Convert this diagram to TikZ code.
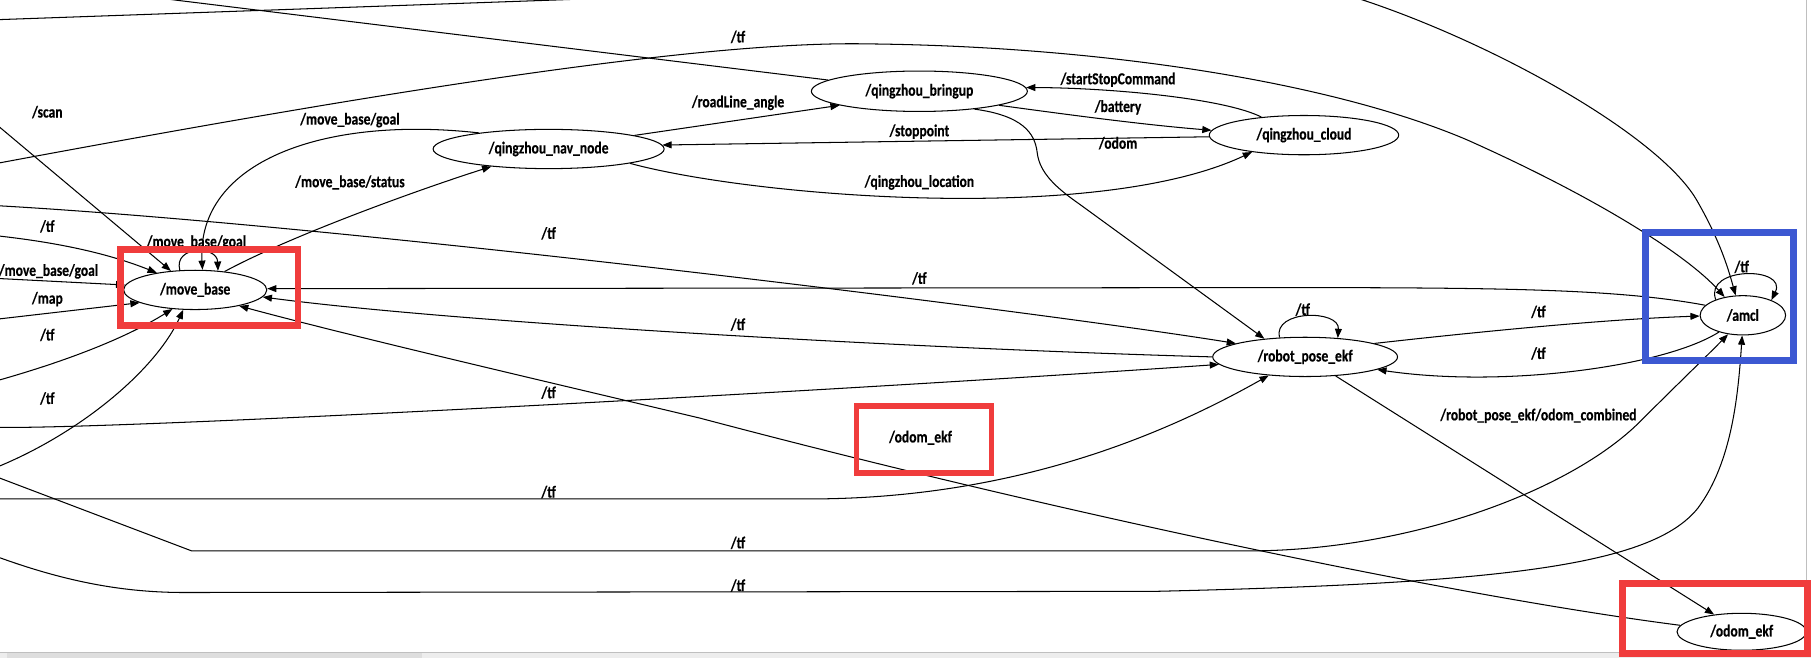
\documentclass[tikz,border=0pt]{standalone}
\usepackage{fontspec}
\newfontfamily\lblfont{Carlito}[FakeStretch=0.81,FakeBold=0.35]
\usetikzlibrary{arrows.meta,shapes.geometric}
\definecolor{annred}{RGB}{240,60,60}
\definecolor{annblue}{RGB}{60,88,210}
\begin{document}
\begin{tikzpicture}[x=1pt,y=-1pt,
  font={\lblfont\fontsize{14.5pt}{16pt}\selectfont\bfseries},
  nd/.style={ellipse, draw, line width=0.9pt, inner sep=0pt, fill=white},
  lb/.style={inner sep=0pt},
  ed/.style={-{Triangle[length=8pt,width=6pt]}, line width=0.9pt},
  pl/.style={line width=0.9pt},
  annbox/.style={line width=6pt}]
\useasboundingbox (0,0) rectangle (1568,570);
\fill[white] (0,0) rectangle (1568,570);
\clip (0,0) rectangle (1568,570);

% nodes
\node[nd, minimum width=124pt, minimum height=34pt] (mb) at (169,251) {/move\_base};
\node[nd, minimum width=200pt, minimum height=34pt] (nav) at (475,129) {/qingzhou\_nav\_node};
\node[nd, minimum width=187pt, minimum height=35pt] (bu) at (796,79) {/qingzhou\_bringup};
\node[nd, minimum width=164pt, minimum height=34pt] (cl) at (1129,117) {/qingzhou\_cloud};
\node[nd, minimum width=160pt, minimum height=34pt] (rpe) at (1130,309) {/robot\_pose\_ekf};
\node[nd, minimum width=74pt, minimum height=34pt] (amcl) at (1509,273) {/amcl};
\node[nd, minimum width=112pt, minimum height=32pt] (oe) at (1508,547) {/odom\_ekf};
\node[lb] (oe2) at (797,379) {/odom\_ekf};

% free ends
\coordinate (s1) at (-4,107);
\coordinate (s2) at (-4,204);
\coordinate (s3) at (-4,241);
\coordinate (s4) at (-4,276.5);
\coordinate (s5) at (-4,330);
\coordinate (s6) at (-4,405);
\coordinate (s7) at (-4,178);
\coordinate (s8) at (-4,141.7);
\coordinate (s9) at (-4,17.1);
\coordinate (s10) at (-4,370);
\coordinate (s11) at (-4,432);
\coordinate (s12) at (-4,412.5);
\coordinate (s13) at (-4,481.5);
\coordinate (b1) at (135,-2);

% edges into move_base
\draw[ed] (s1) -- (mb.142);
\draw[ed] (s2) .. controls (60,211) and (100,222) .. (mb.156);
\draw[ed] (s3) -- (mb.176);
\draw[ed] (s4) -- (mb.193);
\draw[ed] (s5) .. controls (60,312) and (110,292) .. (mb.220);
\draw[ed] (s6) .. controls (70,375) and (135,320) .. (mb.239);
\draw[ed] (mb.128) .. controls (150,212.5) and (188,212.5) .. (mb.40);
\draw[ed] (nav.167) .. controls (280,100) and (170,140) .. (mb.70);
\draw[ed] (mb.32) .. controls (250,205) and (360,165) .. (nav.197);

% long lines
\draw[ed] (s7) .. controls (300,195) and (900,270) .. (rpe.169);
\draw[ed] (s8) .. controls (300,85) and (600,35) .. (751,38) .. controls (950,40) and (1150,70) .. (1270,121) .. controls (1380,170) and (1460,220) .. (amcl.135);
\draw[ed] (s9) -- (600,-4.2) .. controls (900,-15) and (1100,-28) .. (1180,0) .. controls (1300,40) and (1440,120) .. (1470,175) .. controls (1490,210) and (1497,235) .. (amcl.110);
\draw[pl] (bu.173) -- (b1);

% nav / bringup / cloud
\draw[ed] (nav.9) -- (bu.190);
\draw[ed] (cl.157) .. controls (1060,85) and (960,76) .. (bu.2);
\draw[ed] (bu.350) .. controls (930,100) and (990,108) .. (cl.177);
\draw[ed] (cl.181) -- (nav.2);
\draw[ed] (nav.350) .. controls (650,170) and (950,195) .. (cl.198);
\draw[ed] (bu.342) .. controls (885,100) and (896,115) .. (898,132) .. controls (900,150) and (915,163) .. (935,177) -- (rpe.156);

% tf network
\draw[ed] (amcl.165) .. controls (1400,250) and (1300,249) .. (1100,249) -- (mb.1);
\draw[ed] (rpe.180) .. controls (800,302) and (400,280) .. (mb.354);
\draw[ed] (s10) .. controls (100,372) and (700,340) .. (rpe.185);
\draw[ed] (s11) -- (700,432) .. controls (880,432) and (1010,375) .. (rpe.207);
\draw[ed] (s12) -- (166,477) -- (1080,477) .. controls (1220,477) and (1360,425) .. (1420,365) .. controls (1452,333) and (1476,310) .. (amcl.232);
\draw[ed] (s13) .. controls (60,505) and (110,513) .. (160,513) -- (1000,512) .. controls (1300,505) and (1430,490) .. (1470,440) .. controls (1500,400) and (1505,340) .. (amcl.268);
\draw[ed] (oe.174) .. controls (1250,515) and (900,440) .. (606,362) .. controls (450,325) and (300,290) .. (mb.340);
\draw[ed] (rpe.328) -- (oe.148);
\draw[ed] (rpe.11) .. controls (1300,285) and (1400,276) .. (amcl.181);
\draw[ed] (amcl.215) .. controls (1440,318) and (1300,336) .. (rpe.350);
\draw[ed] (rpe.143) .. controls (1102,268) and (1160,268) .. (rpe.30);
\draw[ed] (amcl.150) .. controls (1475,230.5) and (1548,230.5) .. (amcl.28);

% labels
\node[lb] (l1) at (639,32) {/tf};
\node[lb] (l2) at (41,97) {/scan};
\node[lb] (l3) at (303,104) {/move\_base/goal};
\node[lb] (l4) at (639,89) {/roadLine\_angle};
\node[lb] (l5) at (968,69) {/startStopCommand};
\node[lb] (l6) at (968,93) {/battery};
\node[lb] (l7) at (796,114) {/stoppoint};
\node[lb] (l8) at (968,124) {/odom};
\node[lb] (l9) at (796,158) {/qingzhou\_location};
\node[lb] (l10) at (303,158) {/move\_base/status};
\node[lb] (l11) at (41,196) {/tf};
\node[lb] (l12) at (475,202) {/tf};
\node[lb] (l13) at (170,210) {/move\_base/goal};
\node[lb] (l14) at (42,235) {/move\_base/goal};
\node[lb] (l15) at (41,259) {/map};
\node[lb] (l16) at (796,241) {/tf};
\node[lb] (l17) at (1508,231) {/tf};
\node[lb] (l18) at (1128,268) {/tf};
\node[lb] (l19) at (1332,270) {/tf};
\node[lb] (l20) at (41,290) {/tf};
\node[lb] (l21) at (639,281) {/tf};
\node[lb] (l22) at (1332,306) {/tf};
\node[lb] (l23) at (41,345) {/tf};
\node[lb] (l24) at (475,340) {/tf};
\node[lb] (l25) at (1332,360) {/robot\_pose\_ekf/odom\_combined};
\node[lb] (l26) at (475,426) {/tf};
\node[lb] (l27) at (639,470) {/tf};
\node[lb] (l28) at (639,507) {/tf};

% scrollbars
\fill[black!7] (0,565) rectangle (1568,570);
\fill[black!13] (6,565.5) rectangle (365,570);
\draw[black!25, line width=0.6pt] (0,565) -- (1564,565);
\draw[black!25, line width=0.6pt] (1564,0) -- (1564,565);

% annotation boxes
\draw[annred, annbox] (104,216) rectangle (258,282);
\draw[annred, line width=5pt] (741.5,351.5) rectangle (858.5,409.5);
\draw[annred, annbox] (1405,505) rectangle (1565,566);
\draw[annblue, annbox] (1425,201) rectangle (1553,312);
\end{tikzpicture}
\end{document}
